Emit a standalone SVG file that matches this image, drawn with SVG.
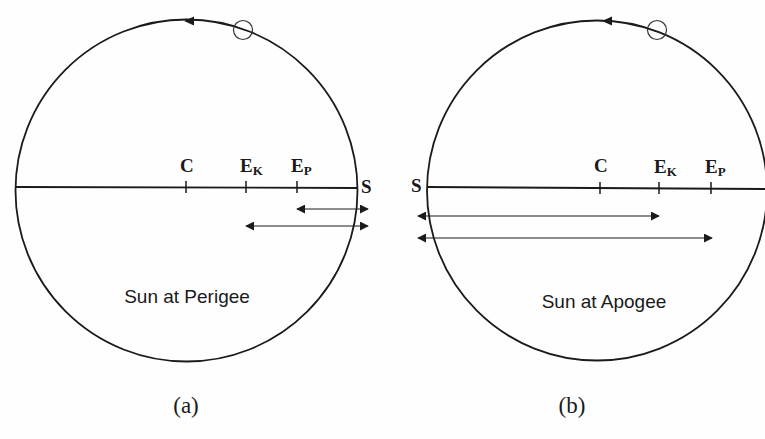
<svg xmlns="http://www.w3.org/2000/svg" width="765" height="439" viewBox="0 0 765 439">
<style>
.orb{fill:none;stroke:#1a1a1a;stroke-width:1.8}
.axis{stroke:#1a1a1a;stroke-width:1.8}
.tick{stroke:#1a1a1a;stroke-width:1.5}
.dim{stroke:#1a1a1a;stroke-width:1.2;marker-start:url(#ah);marker-end:url(#ah)}
.lbl{font-family:"Liberation Serif","Times New Roman",serif;font-weight:bold;font-size:19px;fill:#1a1a1a}
.sub{font-size:13px}
.cap{font-family:"Liberation Sans",Arial,sans-serif;font-size:19px;fill:#1a1a1a;text-anchor:middle}
.fig{font-family:"Liberation Serif","Times New Roman",serif;font-size:23px;fill:#1a1a1a;text-anchor:middle}
.sat{fill:none;stroke:#333;stroke-width:1.2}
</style>
<defs>
<marker id="ah" viewBox="0 0 10 10" refX="9" refY="5" markerWidth="9" markerHeight="9" markerUnits="userSpaceOnUse" orient="auto-start-reverse">
<path d="M0,0 L10,5 L0,10 z" fill="#1a1a1a"/>
</marker>
</defs>
<rect width="765" height="439" fill="#fefefe"/>

<g id="panel-a">
<circle class="orb" cx="186.5" cy="190.5" r="171"/>
<polygon points="184,21 194,16.5 194,25.5" fill="#1a1a1a"/>
<circle class="sat" cx="243" cy="30" r="9.5"/>
<line class="axis" x1="15.5" y1="187" x2="358" y2="188"/>
<line class="tick" x1="186" y1="181" x2="186" y2="193"/>
<line class="tick" x1="246" y1="181" x2="246" y2="193"/>
<line class="tick" x1="297" y1="181" x2="297" y2="193"/>
<text class="lbl" x="180" y="172">C</text>
<text class="lbl" x="240" y="172">E<tspan class="sub" dy="3">K</tspan></text>
<text class="lbl" x="291" y="172">E<tspan class="sub" dy="3">P</tspan></text>
<text class="lbl" x="361" y="193" font-size="17">S</text>
<text class="cap" x="187" y="303">Sun at Perigee</text>
<text class="fig" x="186" y="413">(a)</text>
</g>

<g id="panel-b">
<circle class="orb" cx="597" cy="190.5" r="170"/>
<polygon points="602,21 612,16.5 612,25.5" fill="#1a1a1a"/>
<circle class="sat" cx="657" cy="30" r="9.5"/>
<line class="axis" x1="427.5" y1="187" x2="765" y2="189"/>
<line class="tick" x1="600" y1="182" x2="600" y2="194"/>
<line class="tick" x1="659" y1="182" x2="659" y2="194"/>
<line class="tick" x1="711" y1="182" x2="711" y2="194"/>
<text class="lbl" x="594" y="172">C</text>
<text class="lbl" x="654" y="173">E<tspan class="sub" dy="3">K</tspan></text>
<text class="lbl" x="705" y="173">E<tspan class="sub" dy="3">P</tspan></text>
<text class="lbl" x="411" y="192" font-size="17">S</text>
<text class="cap" x="604" y="308">Sun at Apogee</text>
<text class="fig" x="572" y="413">(b)</text>
</g>

<g id="connectors">
<line class="dim" x1="297" y1="209" x2="368" y2="209"/>
<line class="dim" x1="246" y1="226" x2="368" y2="226"/>
<line class="dim" x1="418" y1="216" x2="659" y2="216"/>
<line class="dim" x1="418" y1="238" x2="712" y2="238"/>
</g>
</svg>
